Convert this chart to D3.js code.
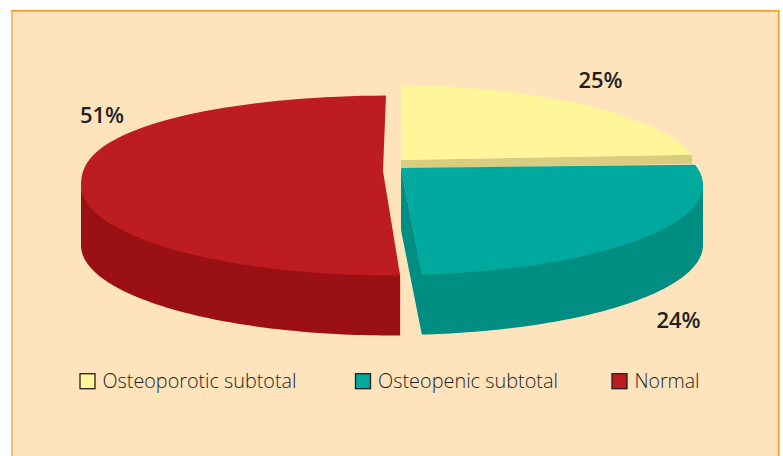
<!DOCTYPE html>
<html>
<head>
<meta charset="utf-8">
<script src="https://cdn.jsdelivr.net/npm/d3@7/dist/d3.min.js"></script>
<style>
html, body { margin: 0; padding: 0; background: #fff; }
svg { display: block; }
</style>
</head>
<body>
<div id="chart-area"></div>
<script>
var categories = ["Osteoporotic subtotal", "Osteopenic subtotal", "Normal"];
var values = [25, 24, 51];
var labels = ["25%", "24%", "51%"];

var width = 783;
var height = 456;
var depth = 60;

// drawing is hand-skewed: each slice sits on a shifted ellipse with its own tip,
// and its pie angles are stretched onto the part of the rim it really covers
var top_colors = ["#fff599", "#00a99d", "#be1c23"];
var side_colors = ["#d8cd80", "#008e82", "#9a1014"];
var shapes = [
    {dx: -3, dy: -10, tip: [401, 160], rim: [2.2, 77], bulge: 1},
    {dx: 0, dy: 0, tip: [401, 168], rim: [77, 174.5], bulge: 1},
    {dx: 0, dy: 0.5, tip: [383, 171], rim: [178.5, 358.9], bulge: 0.85}
];
var label_pos = [[600.5, 88], [678.5, 328], [102, 123]];
var legend_x = [80, 355.5, 612];
var legend_width = [194, 180, 65];

var svg = d3.select("#chart-area").append("svg")
    .attr("width", width)
    .attr("height", height);

svg.append("rect")
    .attr("x", 12).attr("y", 10)
    .attr("width", 767).attr("height", height - 10)
    .attr("fill", "#fee3bc");
svg.append("rect")
    .attr("x", 11).attr("y", 11)
    .attr("width", 2).attr("height", height - 11)
    .attr("fill", "#fdb874");
svg.append("rect")
    .attr("x", 11).attr("y", 10)
    .attr("width", 768).attr("height", 1.5)
    .attr("fill", "#f7941e");
svg.append("rect")
    .attr("x", 778).attr("y", 10)
    .attr("width", 1.5).attr("height", height - 10)
    .attr("fill", "#f7941e");

var x = d3.scaleLinear().domain([-1, 1]).range([81, 703]);
var y = d3.scaleLinear().domain([1, -1]).range([95, 275]);

var pie = d3.pie().sort(null).value((d) => d);
var arcs = pie(values);

var rad = Math.PI / 180;

function rimPoints(from, to, s, down) {
    var n = 80;
    return d3.range(n + 1).map((i) => {
        var a = (from + (to - from) * i / n) * rad;
        var c = Math.cos(a);
        // back edge of the red slice is a bit fuller than a true ellipse
        if (c > 0) c = Math.pow(c, s.bulge);
        return [x(Math.sin(a)) + s.dx, y(c) + s.dy + down];
    });
}

var line = d3.line();
var g = svg.append("g");

// back to front so the tips overlap like in the original
[0, 2, 1].forEach((i) => {
    var s = shapes[i];
    var angle = d3.scaleLinear()
        .domain([arcs[i].startAngle, arcs[i].endAngle])
        .range(s.rim);
    var a0 = angle(arcs[i].startAngle);
    var a1 = angle(arcs[i].endAngle);
    var down = [s.tip[0], s.tip[1] + depth + 2];

    if (i == 0) {
        // only the cut face shows under the yellow slice
        var end = rimPoints(a1, a1, s, 0)[0];
        g.append("path")
            .attr("d", line([s.tip, end, [end[0], end[1] + 9], [s.tip[0], s.tip[1] + 9]]) + "Z")
            .attr("fill", side_colors[i]);
    }
    // walls start 2px up, under the top face, so no seam shows
    if (i == 1) {
        var wall = [s.tip].concat(rimPoints(a1, 90, s, -2), rimPoints(90, a1, s, depth), [down]);
        g.append("path")
            .attr("d", line(wall) + "Z")
            .attr("fill", side_colors[i]);
    }
    if (i == 2) {
        var wall2 = rimPoints(a0, 270, s, -2).concat(rimPoints(270, a0, s, depth));
        g.append("path")
            .attr("d", line(wall2) + "Z")
            .attr("fill", side_colors[i]);
    }
    g.append("path")
        .attr("d", line([s.tip].concat(rimPoints(a0, a1, s, 0))) + "Z")
        .attr("fill", top_colors[i]);
});

svg.selectAll(".pct")
    .data(labels)
    .enter().append("text")
    .attr("class", "pct")
    .attr("x", (d, i) => label_pos[i][0])
    .attr("y", (d, i) => label_pos[i][1])
    .attr("text-anchor", "middle")
    .attr("font-family", "Open Sans")
    .attr("font-weight", 600)
    .attr("font-size", "22px")
    .attr("fill", "#231f20")
    .text((d) => d);

var legend = svg.selectAll(".legend")
    .data(categories)
    .enter().append("g")
    .attr("class", "legend");

legend.append("rect")
    .attr("x", (d, i) => legend_x[i])
    .attr("y", 373.7)
    .attr("width", 15)
    .attr("height", 15)
    .attr("fill", (d, i) => top_colors[i])
    .attr("stroke", "#231f20")
    .attr("stroke-width", 1.3);

legend.append("text")
    .attr("x", (d, i) => legend_x[i] + 22.5)
    .attr("y", 388)
    .attr("font-family", "Open Sans")
    .attr("font-weight", 300)
    .attr("font-size", "21px")
    .attr("fill", "#231f20")
    .attr("textLength", (d, i) => legend_width[i])
    .attr("lengthAdjust", "spacingAndGlyphs")
    .text((d) => d);
</script>
</body>
</html>
